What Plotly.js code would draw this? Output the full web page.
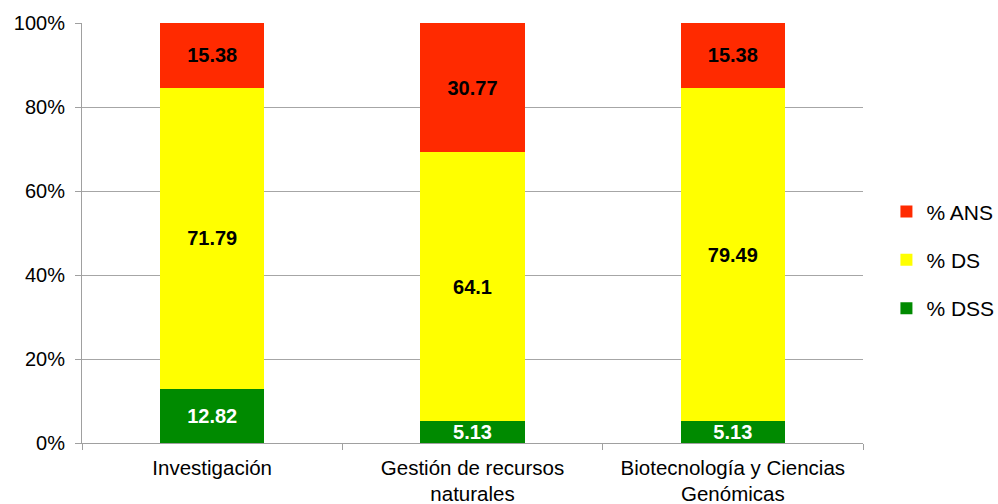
<!DOCTYPE html>
<html>
<head>
<meta charset="utf-8">
<script src="https://cdn.plot.ly/plotly-3.0.1.min.js"></script>
<style>html,body{margin:0;padding:0;background:#fff;}#chart{width:998px;height:504px;}</style>
</head>
<body>
<div id="chart"></div>
<script>
const categories = ["Investigación", "Gestión de recursos<br>naturales", "Biotecnología y Ciencias<br>Genómicas"];
const dss = [12.82, 5.13, 5.13];
const ds = [71.79, 64.1, 79.49];
const ans = [15.38, 30.77, 15.38];
const seriesNames = ["% DSS", "% DS", "% ANS"];
const tickVals = [0, 20, 40, 60, 80, 100];
const tickText = ["0%", "20%", "40%", "60%", "80%", "100%"];

const FONT = 'Liberation Sans, Arial, sans-serif';
const colors = ["#008A00", "#FFFF00", "#FF2A00"];
const textColors = ["#ffffff", "#000000", "#000000"];
const ranks = [3, 2, 1];
const series = [dss, ds, ans];

const traces = series.map((vals, i) => ({
  type: 'bar',
  name: seriesNames[i],
  legendgroup: 'g' + i,
  legendrank: ranks[i],
  x: categories,
  y: vals,
  text: vals.map(v => String(v)),
  textposition: 'inside',
  insidetextanchor: 'middle',
  constraintext: 'none',
  textfont: {family: FONT, size: 20, color: textColors[i], weight: 'bold'},
  marker: {color: colors[i], line: {width: 0}},
  width: 0.4,
  hoverinfo: 'none'
}));

const layout = {
  width: 998, height: 504,
  barmode: 'stack',
  margin: {l: 82, r: 135, t: 23, b: 61, autoexpand: false},
  paper_bgcolor: '#ffffff', plot_bgcolor: '#ffffff',
  font: {family: FONT, size: 20, color: '#000'},
  xaxis: {
    type: 'category',
    tickson: 'boundaries',
    ticks: 'outside', ticklen: 6, tickcolor: '#a0a0a0', tickwidth: 1,
    showline: true, linecolor: '#a0a0a0', linewidth: 1,
    showgrid: false,
    automargin: false,
    ticklabelstandoff: 6,
    tickfont: {size: 20.5, family: FONT}
  },
  yaxis: {
    range: [0, 100],
    tickvals: tickVals, ticktext: tickText,
    ticks: 'outside', ticklen: 6, tickcolor: '#a0a0a0',
    showline: true, linecolor: '#a0a0a0', linewidth: 1,
    showgrid: true, gridcolor: '#a6a6a6', gridwidth: 1,
    zeroline: false,
    automargin: false,
    ticklabelstandoff: 6,
    tickfont: {size: 20, family: FONT}
  },
  showlegend: true,
  legend: {
    x: 1.03, xanchor: 'left', y: 0.436, yanchor: 'middle',
    traceorder: 'grouped',
    tracegroupgap: 18,
    font: {size: 21, family: FONT},
    itemwidth: 30
  }
};

Plotly.newPlot('chart', traces, layout, {staticPlot: true, displayModeBar: false});
</script>
</body>
</html>
